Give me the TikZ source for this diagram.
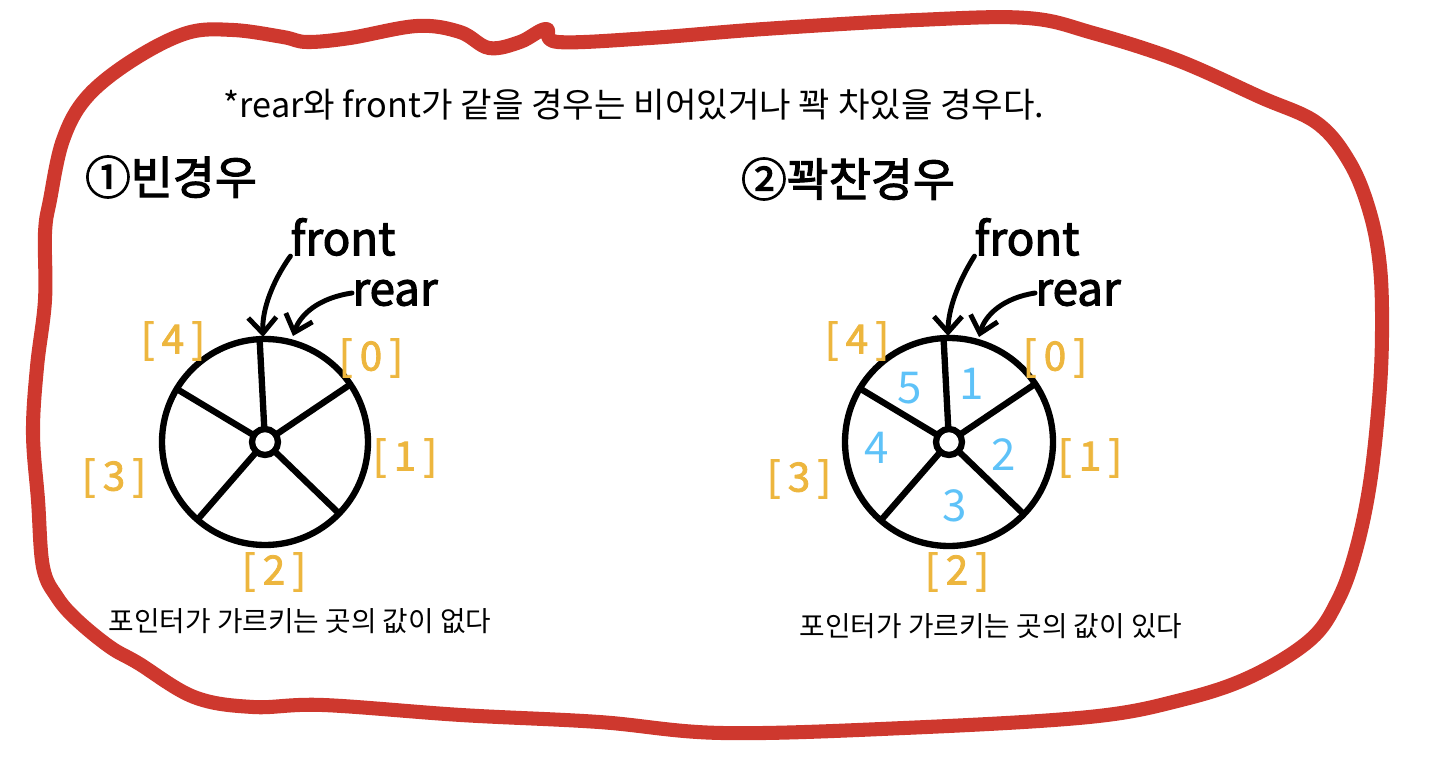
\documentclass[tikz,border=0pt]{standalone}
\usepackage{fontspec}
\setmainfont{Noto Sans CJK KR}
\newfontfamily\handfont{Noto Sans CJK KR}[FakeBold=2.5]
\newfontfamily\idxfont{Noto Sans CJK KR}[FakeBold=2, LetterSpace=18]
\usepackage{tikz}
\usetikzlibrary{arrows.meta,positioning}
\definecolor{figRed}{HTML}{CE382E}
\definecolor{figYellow}{HTML}{EDB63E}
\definecolor{figBlue}{HTML}{5EC2F8}

\begin{document}
\begin{tikzpicture}[
  x=0.02cm, y=-0.02cm,
  >={Straight Barb[length=9pt,width=16pt]},
  wheel line/.style={line width=3.6pt, black},
  pointer/.style={->, line width=2.8pt, line cap=round},
  note text/.style={font=\fontsize{19.5}{21}\selectfont, inner sep=0pt},
  desc text/.style={font=\fontsize{15.8}{17}\selectfont, inner sep=0pt},
  head text/.style={font=\handfont\fontsize{26}{28}\selectfont, inner sep=0pt},
  hand text/.style={font=\handfont\fontsize{26}{28}\selectfont, inner sep=0pt},
  index node/.style={font=\idxfont\fontsize{23}{23}\selectfont, text=figYellow, inner sep=0pt},
  value node/.style={font=\fontsize{25}{25}\selectfont, text=figBlue, inner sep=0pt},
]
\useasboundingbox (0,0) rectangle (1440,780);

% hand-drawn frame
\draw[figRed, line width=8pt, line cap=round, line join=round]
  plot[smooth cycle, tension=0.6] coordinates {
    (63,140) (87,97) (133,60) (187,33) (233,30) (283,37) (307,42) (350,38)
    (417,26) (460,32) (489,48) (520,42) (546,29) (558,42) (650,38) (764,29)
    (917,20) (1027,18) (1093,33) (1177,60) (1260,97) (1317,123) (1350,163)
    (1370,213) (1380,267) (1382,333) (1379,400) (1370,483) (1356,550)
    (1338,600) (1310,640) (1250,677) (1181,700) (1089,717) (904,728)
    (722,733) (599,722) (461,715) (323,705) (253,707) (194,697) (138,663)
    (110,647) (77,620) (57,597) (43,567) (38,500) (33,433) (37,367)
    (45,300) (45,233) (50,200)};

\node[note text] (caption) at (634,105) {*rear와 front가 같을 경우는 비어있거나 꽉 차있을 경우다.};

% Empty queue
\begin{scope}[shift={(265,442)}]
  \node[head text] (emptyHead) at (-94,-265) {①빈경우};
  \draw[wheel line] (0,0) circle (103);
  \draw[wheel line] (0,0) circle (13);
  % angles run clockwise because y points down
  \foreach \a in {267,326,44,131,211}
    \draw[wheel line] (\a:13) -- (\a:103);
  \node[index node] (e0) at (106,-84) {[0]};
  \node[index node] (e1) at (140,16) {[1]};
  \node[index node] (e2) at (9,130) {[2]};
  \node[index node] (e3) at (-151,36) {[3]};
  \node[index node] (e4) at (-92,-101) {[4]};
  \node[hand text] (eFront) at (78,-205) {front};
  \node[hand text] (eRear) at (130,-149) {rear};
  \coordinate (eFrontTip) at (-2,-105);
  \coordinate (eRearTip) at (28,-106);
  \node[desc text] (emptyDesc) at (35,179) {포인터가 가르키는 곳의 값이 없다};
\end{scope}
\draw[pointer] (eFront.200) .. controls (272,282) and (262,310) .. (eFrontTip);
\draw[pointer] (eRear.180) .. controls (318,298) and (300,315) .. (eRearTip);

% Full queue
\begin{scope}[shift={(949,442)}]
  \node[head text] (fullHead) at (-101,-263) {②꽉찬경우};
  \draw[wheel line] (0,0) circle (104);
  \draw[wheel line] (0,0) circle (13);
  \foreach \a in {267,326,44,131,211}
    \draw[wheel line] (\a:13) -- (\a:104);
  \node[index node] (f0) at (106,-84) {[0]};
  \node[index node] (f1) at (141,16) {[1]};
  \node[index node] (f2) at (8,130) {[2]};
  \node[index node] (f3) at (-150,37) {[3]};
  \node[index node] (f4) at (-92,-101) {[4]};
  \node[value node] (v1) at (23,-58) {1};
  \node[value node] (v2) at (55,13) {2};
  \node[value node] (v3) at (6,64) {3};
  \node[value node] (v4) at (-72,6) {4};
  \node[value node] (v5) at (-39,-54) {5};
  \node[hand text] (fFront) at (78,-205) {front};
  \node[hand text] (fRear) at (129,-149) {rear};
  \coordinate (fFrontTip) at (-1,-106);
  \coordinate (fRearTip) at (30,-105);
  \node[desc text] (fullDesc) at (42,184) {포인터가 가르키는 곳의 값이 있다};
\end{scope}
\draw[pointer] (fFront.200) .. controls (958,282) and (948,310) .. (fFrontTip);
\draw[pointer] (fRear.180) .. controls (1003,298) and (985,315) .. (fRearTip);

\end{tikzpicture}
\end{document}
